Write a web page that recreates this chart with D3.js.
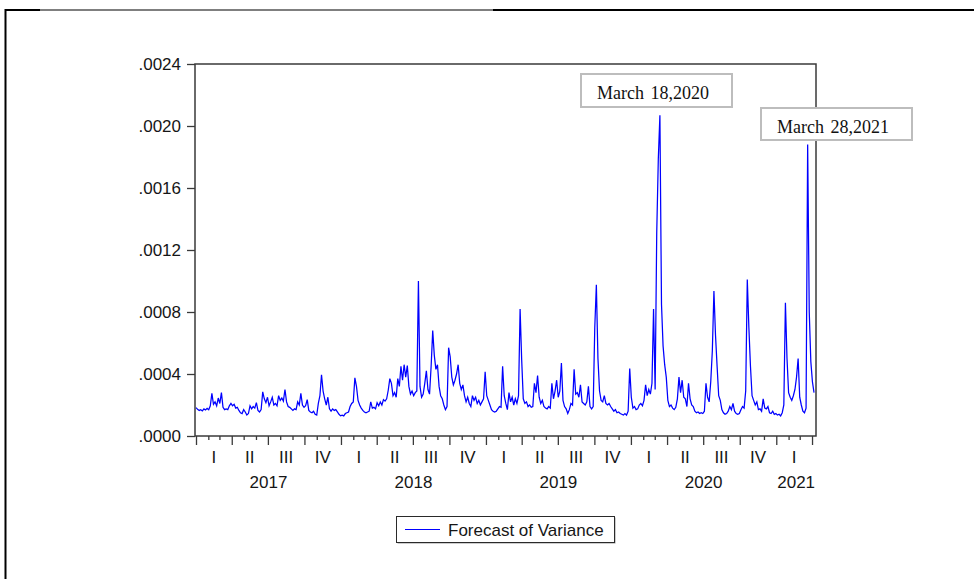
<!DOCTYPE html>
<html>
<head>
<meta charset="utf-8">
<script src="https://cdn.jsdelivr.net/npm/d3@7"></script>
<style>
  html, body { margin: 0; padding: 0; background: #fff; }
  svg { display: block; }
  .tick-label, .legend-label { font-family: "Liberation Sans", Arial, sans-serif; font-size: 17px; fill: #161616; }
  .note-label { font-family: "Liberation Serif", "Times New Roman", serif; font-size: 18px; fill: #111; }
</style>
</head>
<body>
<svg id="chart" width="974" height="579"></svg>
<script>
// ---- data -------------------------------------------------------------
// Conditional variance forecast, one observation every 4 days from 2017-01-01.
// Values are in units of 1e-4.
const seriesStart = "2017-01-01";
const seriesEnd = "2021-04-11";
const stepDays = 4;
const varianceE4 = [
  1.83, 1.72, 1.65, 1.70, 1.62, 1.75, 1.68, 1.78, 1.70, 1.95,
  2.75, 2.05, 2.2, 1.95, 2.45, 2.1, 2.8, 1.85, 1.7, 1.75,
  1.7, 1.95, 2.1, 1.95, 2.05, 1.8, 1.85, 1.65, 1.5, 1.45,
  1.7, 1.55, 1.35, 1.45, 1.95, 1.75, 1.9, 1.8, 2.15, 1.65,
  1.55, 1.7, 2.85, 2.4, 2.15, 2.5, 1.95, 2.2, 2.5, 2.0,
  2.1, 1.95, 2.6, 2.3, 2.45, 2.25, 3.0, 2.2, 1.9, 1.85,
  1.75, 1.65, 1.75, 1.7, 2.2, 2.0, 2.75, 2.0, 1.85, 1.95,
  2.35, 1.65, 1.55, 1.5, 1.6, 1.4, 1.35, 2.1, 2.6, 3.95,
  2.9, 2.4, 2.0, 2.5, 1.75, 1.6, 1.75, 1.65, 1.7, 1.55,
  1.4, 1.3, 1.35, 1.3, 1.45, 1.5, 1.55, 1.9, 2.1, 2.2,
  3.75, 3.2, 2.3, 2.0, 1.8, 1.65, 1.55, 1.5, 1.55, 1.6,
  2.2, 1.8, 1.85, 1.75, 2.15, 1.95, 2.2, 2.0, 2.35, 2.25,
  2.4, 2.95, 3.7, 3.4, 2.6, 2.8, 2.5, 3.7, 3.2, 4.5,
  3.6, 4.6, 3.8, 4.55, 3.2, 2.7, 2.9, 2.6, 2.8, 2.9,
  10.0, 3.2, 2.5, 2.7, 3.4, 4.2, 3.0, 2.7, 4.5, 6.8,
  5.2, 4.3, 4.6, 3.2, 2.6, 2.4, 2.0, 1.7, 1.9, 5.7,
  5.1, 3.8, 3.3, 3.6, 4.0, 4.6, 3.4, 3.0, 3.3, 2.6,
  2.2, 2.5, 2.1, 1.9, 2.6, 2.3, 2.5, 2.1, 2.3, 2.0,
  2.2, 2.4, 4.15, 2.6, 2.3, 2.0, 1.7, 1.6, 1.55, 1.6,
  1.75, 1.9, 1.85, 4.5, 2.6, 2.1, 1.7, 2.8, 2.2, 2.5,
  2.0, 2.4, 2.1, 2.6, 8.2, 4.9, 2.4, 2.1, 2.2, 1.9,
  2.0, 1.85, 1.9, 3.4, 2.8, 3.9, 2.5, 2.1, 2.3, 1.9,
  1.8, 1.75, 1.9, 1.8, 3.4, 2.4, 2.9, 3.6, 2.5, 2.9,
  4.7, 2.3, 1.9, 1.75, 1.45, 1.7, 2.1, 2.0, 4.3, 2.7,
  2.8, 2.5, 3.3, 2.2, 2.1, 2.0, 2.2, 3.2, 1.9, 1.75,
  1.9, 7.0, 9.75, 5.0, 2.9, 2.3, 2.2, 2.6, 2.1, 2.0,
  2.1, 1.9, 1.75, 1.6, 1.7, 1.5, 1.55, 1.45, 1.4, 1.35,
  1.45, 1.35, 1.6, 4.35, 2.5, 1.8, 1.9, 1.7, 1.75, 2.0,
  2.1, 1.95, 2.3, 3.3, 2.6, 3.0, 2.7, 3.4, 8.2, 3.0,
  13.1, 17.9, 20.7, 8.5, 5.8, 4.6, 3.8, 2.3, 1.9, 2.0,
  1.8, 1.7, 1.85, 2.4, 3.8, 2.8, 3.6, 2.5, 2.4, 1.9,
  3.4, 2.4, 2.0, 1.9, 1.6, 1.5, 1.55, 1.45, 1.5, 1.45,
  1.6, 3.4, 2.5, 2.2, 3.5, 5.5, 9.35, 6.5, 4.5, 2.6,
  2.3, 1.7, 1.5, 1.4, 1.45, 1.6, 1.9, 1.7, 2.1, 1.6,
  1.45, 1.4, 1.45, 1.7, 1.9, 1.8, 2.9, 10.1, 7.0, 4.5,
  2.6, 2.3, 2.0, 2.2, 1.7, 1.75, 1.6, 2.4, 1.8, 1.75,
  1.9, 1.5, 1.45, 1.6, 1.4, 1.45, 1.35, 1.4, 1.3, 1.5,
  2.0, 8.6, 5.0, 2.8, 2.5, 2.3, 2.6, 3.0, 3.8, 5.0,
  2.5, 2.0, 1.6, 1.5, 1.8, 18.8, 8.0, 4.8, 3.5, 2.8
];
const yTicks = [0, 0.0004, 0.0008, 0.0012, 0.0016, 0.0020, 0.0024];
const quarterNames = ["I", "II", "III", "IV"];
const seriesName = "Forecast of Variance";
const noteLabels = ["March 18,2020", "March 28,2021"];

// ---- layout -----------------------------------------------------------
const plot = { left: 195, right: 816, top: 64, bottom: 436 };
const svg = d3.select("#chart");

const start = d3.utcParse("%Y-%m-%d")(seriesStart);
const end = d3.utcParse("%Y-%m-%d")(seriesEnd);
const points = varianceE4.map((v, i) => ({ date: d3.utcDay.offset(start, i * stepDays), value: v * 1e-4 }));

const x = d3.scaleUtc().domain([start, end]).range([plot.left + 1, plot.right]);
const y = d3.scaleLinear().domain([0, 0.0024]).range([plot.bottom, plot.top]);

// outer figure frame (top and left edges)
svg.append("line").attr("x1", 5).attr("x2", 974).attr("y1", 10).attr("y2", 10)
  .attr("stroke", "#000").attr("stroke-width", 1.2);
svg.append("line").attr("x1", 5).attr("x2", 40).attr("y1", 10).attr("y2", 10)
  .attr("stroke", "#000").attr("stroke-width", 2);
svg.append("line").attr("x1", 493).attr("x2", 974).attr("y1", 10).attr("y2", 10)
  .attr("stroke", "#000").attr("stroke-width", 2);
svg.append("line").attr("x1", 5.5).attr("x2", 5.5).attr("y1", 9).attr("y2", 579)
  .attr("stroke", "#000").attr("stroke-width", 2);

// series line
const line = d3.line().x(d => x(d.date)).y(d => y(d.value));
svg.append("path").datum(points)
  .attr("d", line)
  .attr("fill", "none")
  .attr("stroke", "#0000ff")
  .attr("stroke-width", 1.25)
  .attr("stroke-linejoin", "miter");

// plot frame
svg.append("rect")
  .attr("x", plot.left).attr("y", plot.top)
  .attr("width", plot.right - plot.left).attr("height", plot.bottom - plot.top)
  .attr("fill", "none").attr("stroke", "#3a3a3a").attr("stroke-width", 1.5);

// y axis
const yAxis = d3.axisLeft(y).tickValues(yTicks).tickSize(8).tickPadding(6)
  .tickFormat(d => d3.format(".4f")(d).replace(/^0/, ""));
const gy = svg.append("g").attr("transform", `translate(${plot.left},0)`).call(yAxis);
gy.select(".domain").remove();
gy.selectAll(".tick line").attr("stroke", "#3a3a3a").attr("stroke-width", 1.3);
gy.selectAll(".tick text").attr("class", "tick-label").attr("fill", null)
  .attr("font-size", null).attr("font-family", null);

// x axis: month ticks, longer at quarter starts
const months = d3.utcMonth.range(start, d3.utcDay.offset(end, 1));
const xAxis = d3.axisBottom(x).tickValues(months).tickSize(4).tickFormat("");
const gx = svg.append("g").attr("transform", `translate(0,${plot.bottom})`).call(xAxis);
gx.select(".domain").remove();
gx.selectAll(".tick line")
  .attr("y2", d => d.getUTCMonth() % 3 === 0 ? 9 : 4)
  .attr("stroke", "#3a3a3a").attr("stroke-width", 1.3);

// quarter labels (quarters fully inside the range)
const quarters = d3.utcMonth.every(3).range(start, end)
  .filter(q => d3.utcMonth.offset(q, 3) <= end);
svg.append("g").selectAll("text").data(quarters).join("text")
  .attr("class", "tick-label")
  .attr("x", q => (x(q) + x(d3.utcMonth.offset(q, 3))) / 2)
  .attr("y", 463)
  .attr("text-anchor", "middle")
  .text(q => quarterNames[Math.floor(q.getUTCMonth() / 3)]);

// year labels centred on the visible part of each year
const years = d3.utcYear.range(start, end);
svg.append("g").selectAll("text").data(years).join("text")
  .attr("class", "tick-label")
  .attr("x", yr => (x(yr) + x(d3.min([d3.utcYear.offset(yr, 1), end]))) / 2)
  .attr("y", 488)
  .attr("text-anchor", "middle")
  .text(yr => d3.utcFormat("%Y")(yr));

// annotation boxes
const noteBoxes = [
  { x: 581, y: 74, w: 151, h: 33, tx: 597, ty: 99 },
  { x: 761, y: 108, w: 151, h: 32, tx: 777, ty: 133 }
];
const notes = svg.append("g").selectAll("g").data(noteBoxes).join("g");
notes.append("rect")
  .attr("x", b => b.x).attr("y", b => b.y).attr("width", b => b.w).attr("height", b => b.h)
  .attr("fill", "#fff").attr("stroke", "#bdbdbd").attr("stroke-width", 2);
notes.append("text")
  .attr("class", "note-label")
  .attr("x", b => b.tx).attr("y", b => b.ty)
  .attr("word-spacing", "2px")
  .text((b, i) => noteLabels[i]);

// legend
const legend = svg.append("g");
legend.append("rect").attr("x", 397.5).attr("y", 517.5).attr("width", 218).attr("height", 26)
  .attr("fill", "#9a9a9a");
legend.append("rect").attr("x", 396.5).attr("y", 516.5).attr("width", 218).attr("height", 26)
  .attr("fill", "#fff").attr("stroke", "#2a2a2a").attr("stroke-width", 1);
legend.append("line").attr("x1", 405).attr("x2", 440).attr("y1", 529.5).attr("y2", 529.5)
  .attr("stroke", "#0000ff").attr("stroke-width", 1);
legend.append("text").attr("class", "legend-label").attr("x", 448).attr("y", 535.5)
  .text(seriesName);
</script>
</body>
</html>
